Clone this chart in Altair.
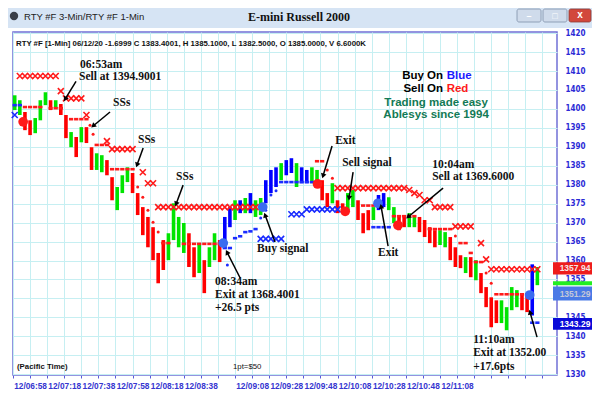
import math
import altair as alt
import pandas as pd

# ---------------- values ----------------
BAR_T0 = 409      # first bar at 06:49 (minutes after midnight)
BAR_STEP = 3      # one bar every 3 minutes

bar_high = [1403.6, 1402.3, 1399.2, 1397.0, 1397.6, 1402.3, 1404.4, 1402.3, 1402.3, 1401.3,
            1398.4, 1393.9, 1392.6, 1395.2, 1395.2, 1389.9, 1388.3, 1387.8, 1386.5, 1382.0,
            1379.4, 1382.5, 1384.6, 1383.1, 1377.8, 1374.1, 1371.5, 1368.8, 1362.0, 1365.4,
            1367.2, 1375.1, 1371.5, 1369.9, 1367.2, 1363.5, 1364.6, 1360.1, 1363.5, 1367.2,
            1365.4, 1371.5, 1374.1, 1375.9, 1375.9, 1376.5, 1377.8, 1375.9, 1376.5, 1381.2,
            1383.9, 1384.6, 1385.7, 1386.5, 1387.0, 1385.7, 1384.6, 1383.9, 1384.6, 1383.9,
            1381.2, 1377.8, 1380.4, 1375.9, 1375.1, 1377.8, 1378.6, 1375.9, 1372.5, 1373.3,
            1374.1, 1377.3, 1377.8, 1376.7, 1374.1, 1371.5, 1371.5, 1372.5, 1371.5, 1371.5,
            1370.7, 1368.8, 1368.0, 1368.0, 1367.5, 1366.2, 1363.5, 1361.4, 1360.9, 1360.9,
            1360.1, 1356.7, 1353.0, 1350.3, 1349.5, 1349.5, 1347.7, 1353.0, 1352.2, 1351.4,
            1350.9, 1359.0, 1358.3]
bar_low = [1399.7, 1398.4, 1394.4, 1393.1, 1393.6, 1397.0, 1401.0, 1399.7, 1400.2, 1398.4,
           1392.3, 1389.9, 1387.3, 1391.2, 1391.0, 1383.9, 1383.9, 1383.3, 1382.5, 1375.9,
           1373.3, 1377.8, 1380.7, 1377.8, 1372.0, 1366.7, 1363.5, 1360.1, 1354.0, 1357.5,
           1360.1, 1365.4, 1363.5, 1362.0, 1358.3, 1355.6, 1356.7, 1351.4, 1358.3, 1360.1,
           1359.6, 1363.5, 1368.8, 1370.7, 1372.5, 1372.5, 1372.5, 1371.5, 1372.0, 1375.1,
           1377.8, 1379.4, 1381.2, 1382.5, 1383.1, 1379.4, 1380.4, 1380.4, 1380.4, 1379.4,
           1375.9, 1374.1, 1375.1, 1372.5, 1372.5, 1373.3, 1374.1, 1370.7, 1367.2, 1368.0,
           1370.7, 1373.3, 1374.1, 1373.3, 1369.9, 1368.0, 1368.8, 1368.8, 1368.8, 1367.5,
           1366.2, 1364.6, 1363.5, 1364.1, 1363.5, 1360.1, 1358.3, 1358.0, 1356.7, 1355.6,
           1354.8, 1351.4, 1347.7, 1342.4, 1343.5, 1343.5, 1341.6, 1346.9, 1347.7, 1346.9,
           1346.4, 1345.5, 1353.5]
bar_color = list("GGRRGGGRGR" "RGRGRRGGRR" "GGGRRRRRRR" "GGGGRRGRGG" "RBBGBGBGGB"
                 "BBGBBGBBGG" "RRGRRGGRRR" "GBBGGRRGGR" "RRRGGRRRGR" "GRRRRGGGGR" "RBG")

# indicator rows: (first bar, last bar, price)
sell_x_rows = [(1, 8, 1408.7), (9, 9, 1404.7), (10, 13, 1402.8), (14, 14, 1398.4),
               (18, 18, 1391.5), (19, 23, 1389.4), (25, 25, 1383.3), (26, 27, 1380.4),
               (28, 47, 1374.1), (63, 76, 1379.1), (77, 77, 1378.6), (78, 78, 1377.8),
               (79, 79, 1377.3), (80, 81, 1375.9), (82, 85, 1374.1), (86, 89, 1369.0),
               (91, 91, 1364.6), (92, 92, 1360.3), (93, 102, 1357.7)]
buy_x_rows = [(0, 0, 1398.4), (48, 52, 1365.7), (54, 56, 1372.2), (57, 63, 1373.5)]
sell_dash_rows = [(2, 5, 1400.5), (7, 9, 1400.2), (11, 14, 1397.3), (16, 18, 1390.5),
                  (19, 23, 1384.1), (29, 30, 1364.6), (33, 40, 1364.4), (59, 60, 1386.2),
                  (68, 70, 1374.5), (74, 78, 1371.7), (81, 85, 1368.3), (87, 88, 1364.6),
                  (89, 89, 1362.0), (90, 91, 1359.6), (94, 100, 1351.1)]
buy_dash_rows = [(0, 1, 1401.0), (41, 42, 1363.3), (43, 43, 1365.9), (44, 44, 1366.4),
                 (45, 45, 1367.5), (46, 46, 1367.7), (47, 47, 1368.3), (52, 58, 1380.7),
                 (70, 73, 1368.8), (101, 102, 1343.6)]
sell_dot_bar = [14.7, 15.3, 24, 25, 26, 27, 28, 61, 62, 86, 92, 93]
sell_dot_price = [1395.7, 1393.3, 1379.4, 1376.7, 1373.3, 1370.1, 1367.5, 1383.9, 1381.7, 1366.5, 1356.7, 1354.0]
buy_dot_bar = [41.5, 48, 49, 50, 51]
buy_dot_price = [1358.8, 1371.2, 1373.3, 1377.3, 1378.4]

sell_signal_bar = [1.65, 59.1, 64.5, 74.8]
sell_signal_price = [1396.6, 1380.2, 1373.0, 1369.3]
buy_signal_bar = [40.7, 48.4, 70.9, 100.5]
buy_signal_price = [1364.6, 1374.1, 1375.1, 1350.9]

tick_minutes = [418, 438, 458, 478, 498, 518, 548, 568, 588, 608, 628, 648, 668]
tick_labels = ["12/06:58", "12/07:18", "12/07:38", "12/07:58", "12/08:18", "12/08:38",
               "12/09:08", "12/09:28", "12/09:48", "12/10:08", "12/10:28", "12/10:48", "12/11:08"]
grid_minutes = [408, 418, 428, 438, 448, 458, 468, 478, 488, 498, 508, 518, 528, 538, 548,
                558, 568, 578, 588, 598, 608, 618, 628, 638, 648, 658, 668, 678, 688, 698, 708, 718]
price_ticks = [1330, 1335, 1340, 1345, 1350, 1355, 1360, 1365, 1370, 1375, 1380, 1385,
               1390, 1395, 1400, 1405, 1410, 1415, 1420]
hidden_price_label = 1350   # covered by the last-price box

note_text = ["06:53am", "Sell at 1394.9001", "SSs", "SSs", "SSs", "08:34am", "Exit at 1368.4001",
             "+26.5 pts", "Buy signal", "Exit", "Sell signal", "Exit", "10:04am",
             "Sell at 1369.6000", "11:10am", "Exit at 1352.00", "+17.6pts"]
note_t = [447.3, 446.7, 466.6, 481.2, 503.5, 526.3, 526.3, 526.3, 550.9, 596.6, 600.7,
          621.7, 653.4, 653.4, 677.4, 677.4, 677.4]
note_p = [1411.6, 1408.4, 1401.5, 1391.8, 1382.0, 1354.3, 1350.9, 1347.4, 1363.0, 1391.5,
          1385.7, 1361.9, 1385.2, 1382.0, 1339.0, 1335.6, 1331.9]

arrow_t0 = [444.9, 464.8, 484.2, 507.6, 541.0, 561.4, 594.8, 607.1, 627.6, 659.8, 714.8]
arrow_p0 = [1407.3, 1399.2, 1389.7, 1379.9, 1355.4, 1364.9, 1390.2, 1383.3, 1363.8, 1379.1, 1339.8]
arrow_t1 = [438.5, 454.9, 480.6, 503.5, 533.3, 555.6, 589.5, 604.8, 623.5, 639.3, 710.7]
arrow_p1 = [1402.6, 1395.5, 1385.2, 1374.9, 1362.2, 1372.0, 1382.3, 1376.5, 1374.3, 1371.5, 1346.4]

legend_lines = ["Buy On", "Blue", "Sell On", "Red", "Trading made easy", "Ablesys since 1994"]
legend_t = [659.8, 661.9, 659.8, 661.9, 655.7, 655.7]
legend_p = [1408.7, 1408.7, 1405.2, 1405.2, 1401.6, 1398.4]

box_price = [1357.94, 1354.0, 1351.29, 1343.29]
box_text = ["1357.94", "", "1351.29", "1343.29"]

header = "RTY #F [1-Min] 06/12/20  -1.6999 C 1383.4001, H 1385.1000, L 1382.5000, O 1385.0000, V 6.6000K"

# ---------------- layout ----------------
W, H = 544, 343
X_DOM = [408.0, 726.5]
Y_DOM = [1329.8, 1420.3]
PX_MIN = W / (X_DOM[1] - X_DOM[0])
PX_PT = H / (Y_DOM[1] - Y_DOM[0])
GRID = "#c6eff2"
RED = "#ff1a1a"
BLUE = "#1a2cff"
xs = alt.Scale(domain=X_DOM, nice=False, zero=False)
ys = alt.Scale(domain=Y_DOM, nice=False, zero=False)


def bt(i):
    return BAR_T0 + BAR_STEP * i


def rows_df(rows):
    recs = []
    for a, b, p in rows:
        for i in range(a, b + 1):
            recs.append({"t": bt(i), "p": p})
    return pd.DataFrame(recs)


label_expr = ""
for m, lab in zip(tick_minutes, tick_labels):
    label_expr += f"datum.value == {m} ? '{lab}' : "
label_expr += "''"

x_axis = alt.Axis(values=grid_minutes, labelExpr=label_expr, grid=True, gridColor=GRID,
                  gridWidth=1, domain=False, ticks=True, tickColor="#5a5ad8", tickSize=3,
                  labelColor="#3535d0", labelFont="Liberation Sans", labelFontSize=8.3,
                  labelFontWeight="bold", labelPadding=3, title=None, labelOverlap=False,
                  labelFlush=False)
y_axis = alt.Axis(orient="right", values=price_ticks, grid=True, gridColor=GRID, gridWidth=1,
                  domain=False, ticks=False, labelPadding=8, labelColor="#2b2bd6",
                  labelExpr=f"datum.value == {hidden_price_label} ? '' : '' + datum.value",
                  labelFont="Liberation Sans Narrow, DejaVu Sans Condensed, Liberation Sans",
                  labelFontSize=8, labelFontWeight="bold", title=None)


def X(field):
    return alt.X(field, type="quantitative", scale=xs, axis=x_axis)


def Y(field):
    return alt.Y(field, type="quantitative", scale=ys, axis=y_axis)


bars = pd.DataFrame({"t": [bt(i) for i in range(len(bar_high))], "hi": bar_high,
                     "lo": bar_low, "c": bar_color})
col_scale = alt.Scale(domain=["R", "G", "B"], range=["#ff0000", "#00e400", "#0000ff"])
bar_layer = alt.Chart(bars).mark_rule(strokeWidth=3.6).encode(
    x=X("t"), y=Y("lo"), y2="hi:Q",
    color=alt.Color("c:N", scale=col_scale, legend=None),
)


def pts(df, shape, size, color, sw=1.6):
    return alt.Chart(df).mark_point(shape=shape, size=size, color=color, strokeWidth=sw,
                                    filled=False, opacity=1).encode(x=X("t"), y=Y("p"))


def dots(bar_idx, prices, size, color):
    df = pd.DataFrame({"t": [bt(i) for i in bar_idx], "p": prices})
    return alt.Chart(df).mark_circle(size=size, color=color, opacity=1).encode(x=X("t"), y=Y("p"))


XPATH = "M-1,-1L1,1M-1,1L1,-1"
DASH = "M-1,0L1,0"
sell_x = pts(rows_df(sell_x_rows), XPATH, 36, RED)
buy_x = pts(rows_df(buy_x_rows), XPATH, 36, BLUE)
sell_dash = pts(rows_df(sell_dash_rows), DASH, 18, RED, sw=2.6)
buy_dash = pts(rows_df(buy_dash_rows), DASH, 18, BLUE, sw=2.6)
sell_dot = dots(sell_dot_bar, sell_dot_price, 9, RED)
buy_dot = dots(buy_dot_bar, buy_dot_price, 9, BLUE)
sell_sig = dots(sell_signal_bar, sell_signal_price, 95, RED)
buy_sig = dots(buy_signal_bar, buy_signal_price, 95, "#3a6cf0")

notes = pd.DataFrame({"t": note_t, "p": note_p, "txt": note_text})
note_layer = alt.Chart(notes).mark_text(align="left", baseline="middle", font="Liberation Serif",
                                        fontSize=11.5, fontWeight="bold", color="#111111").encode(
    x=X("t"), y=Y("p"), text="txt:N")

angles = []
for a0, b0, a1, b1 in zip(arrow_t0, arrow_p0, arrow_t1, arrow_p1):
    dx = (a1 - a0) * PX_MIN
    dy = -(b1 - b0) * PX_PT
    angles.append(math.degrees(math.atan2(dx, -dy)) % 360)
arrows = pd.DataFrame({"t0": arrow_t0, "p0": arrow_p0, "t1": arrow_t1, "p1": arrow_p1, "ang": angles})
arrow_line = alt.Chart(arrows).mark_rule(strokeWidth=1.5, color="#000000").encode(
    x=X("t0"), y=Y("p0"), x2="t1:Q", y2="p1:Q")
arrow_head = alt.Chart(arrows).mark_point(shape="triangle-up", size=32, filled=True, color="#000000",
                                          opacity=1).encode(
    x=X("t1"), y=Y("p1"), angle=alt.Angle("ang:Q", scale=None))

# in-plot legend text
leg = pd.DataFrame({"t": legend_t, "p": legend_p, "txt": legend_lines})


def leg_text(rows, align, color):
    return alt.Chart(leg.iloc[rows]).mark_text(
        align=align, baseline="middle", font="Liberation Sans", fontSize=11.5, fontWeight="bold",
        color=color).encode(x=X("t"), y=Y("p"), text="txt:N")


legend_layers = [leg_text([0, 2], "right", "#000000"), leg_text([1], "left", "#1a1aff"),
                 leg_text([3], "left", "#ff1a1a"), leg_text([4, 5], "center", "#137a55")]

# price boxes on the right axis
box_shapes = ["M-1,-0.28L1,-0.28L1,0.28L-1,0.28Z", "M-1,-0.09L1,-0.09L1,0.09L-1,0.09Z",
              "M-1,-0.32L1,-0.32L1,0.32L-1,0.32Z", "M-1,-0.27L1,-0.27L1,0.27L-1,0.27Z"]
box_fill = ["#ee1c1c", "#22ee22", "#4a7ae6", "#0a0ad8"]
box_txtcol = ["#f6e6e6", "#ffffff", "#c4c8d8", "#ffffff"]
box_layers = []
for bp, shp, fc, tx, tc in zip(box_price, box_shapes, box_fill, box_text, box_txtcol):
    bdf = pd.DataFrame({"p": [bp], "txt": [tx]})
    box_layers.append(alt.Chart(bdf).mark_point(shape=shp, size=44 * 44, filled=True, color=fc,
                                                 opacity=1, strokeWidth=0).encode(
        x=alt.value(W + 18), y=Y("p")))
    if tx:
        box_layers.append(alt.Chart(bdf).mark_text(align="center", baseline="middle",
                                                   font="Liberation Sans", fontSize=8.5,
                                                   fontWeight="bold", color=tc).encode(
            x=alt.value(W + 18), y=Y("p"), text="txt:N"))

# window chrome and fixed captions
deco = pd.DataFrame({"k": [0]})
title_bar = alt.Chart(deco).mark_rect(color="#d6e4f4").encode(
    x=alt.value(-5), x2=alt.value(W + 35), y=alt.value(-24), y2=alt.value(-4))
btns = [
    alt.Chart(deco).mark_rect(color="#cfdbeb", stroke="#7f8fa8", strokeWidth=0.8, cornerRadius=2).encode(
        x=alt.value(504), x2=alt.value(528), y=alt.value(-23), y2=alt.value(-10)),
    alt.Chart(deco).mark_rect(color="#cfdbeb", stroke="#7f8fa8", strokeWidth=0.8, cornerRadius=2).encode(
        x=alt.value(530), x2=alt.value(554), y=alt.value(-23), y2=alt.value(-10)),
    alt.Chart(deco).mark_rect(color="#d2483c", stroke="#8a3a36", strokeWidth=0.8, cornerRadius=2).encode(
        x=alt.value(556), x2=alt.value(578), y=alt.value(-23), y2=alt.value(-10)),
]
icon = alt.Chart(deco).mark_circle(size=70, color="#3a3f48", opacity=1).encode(
    x=alt.value(1), y=alt.value(-16))


def caption(txt, x, y, size, weight="normal", font="Liberation Sans", color="#111111", align="left"):
    return alt.Chart(pd.DataFrame({"txt": [txt]})).mark_text(
        align=align, baseline="middle", font=font, fontSize=size, fontWeight=weight, color=color).encode(
        x=alt.value(x), y=alt.value(y), text="txt:N")


caps = [
    caption("RTY #F 3-Min/RTY #F 1-Min", 11, -15, 9.5, color="#222222"),
    caption("E-mini Russell 2000", 286, -15, 12, weight="bold", font="Liberation Serif", align="center"),
    caption("–", 516, -16, 9, weight="bold", color="#ffffff", align="center"),
    caption("□", 542, -16, 9, weight="bold", color="#ffffff", align="center"),
    caption("x", 567, -17, 10, weight="bold", color="#ffffff", align="center"),
    caption(header, 3, 12, 7.8, weight="bold"),
    caption("(Pacific Time)", 4, 335, 7.8, weight="bold"),
    caption("1pt=$50", 220, 335, 7.8),
]

chart = alt.layer(
    bar_layer, title_bar, *btns, icon, sell_dash, buy_dash, sell_dot, buy_dot, sell_x, buy_x,
    sell_sig, buy_sig, arrow_line, arrow_head, note_layer, *legend_layers, *box_layers, *caps,
).properties(
    width=W, height=H, padding={"left": 5, "top": 24, "right": 35, "bottom": 14},
    autosize=alt.AutoSizeParams(type="none"), background="#ffffff",
).configure_view(stroke="#7070d6", strokeWidth=1.5)

chart.save("out.html", embed_options={"renderer": "svg", "actions": False})
